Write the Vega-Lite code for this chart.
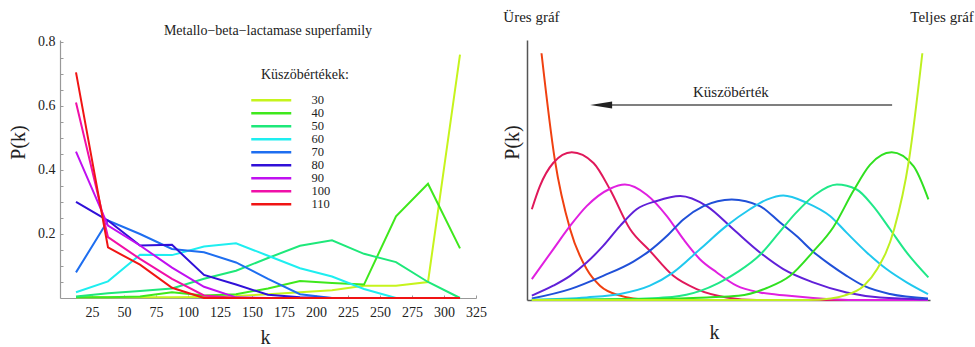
{
  "$schema": "https://vega.github.io/schema/vega-lite/v6.json",
  "background": "white",
  "padding": {"left": 8, "top": 10, "right": 5, "bottom": 5},
  "bounds": "flush",
  "spacing": 51,
  "config": {
    "font": "Liberation Serif",
    "view": {"stroke": null},
    "text": {"font": "Liberation Serif"},
    "title": {"font": "Liberation Serif"},
    "legend": {"labelFont": "Liberation Serif", "titleFont": "Liberation Serif"},
    "axis": {"labelFont": "Liberation Serif", "titleFont": "Liberation Serif", "grid": false, "labelColor": "#222", "titleColor": "#222", "titleFontWeight": "normal"}
  },
  "resolve": {"scale": {"color": "independent"}, "legend": {"color": "independent"}},
  "datasets": {
    "left": [
      {"t":30,"k":12.5,"p":0.002},{"t":30,"k":37.5,"p":0.002},{"t":30,"k":62.5,"p":0.002},{"t":30,"k":87.5,"p":0.002},{"t":30,"k":112.5,"p":0.003},{"t":30,"k":137.5,"p":0.006},{"t":30,"k":162.5,"p":0.012},{"t":30,"k":187.5,"p":0.018},{"t":30,"k":212.5,"p":0.024},{"t":30,"k":237.5,"p":0.038},{"t":30,"k":262.5,"p":0.038},{"t":30,"k":287.5,"p":0.05},{"t":30,"k":312.5,"p":0.76},
      {"t":40,"k":12.5,"p":0.002},{"t":40,"k":37.5,"p":0.002},{"t":40,"k":62.5,"p":0.005},{"t":40,"k":87.5,"p":0.018},{"t":40,"k":112.5,"p":0.008},{"t":40,"k":137.5,"p":0.012},{"t":40,"k":162.5,"p":0.03},{"t":40,"k":187.5,"p":0.053},{"t":40,"k":212.5,"p":0.047},{"t":40,"k":237.5,"p":0.042},{"t":40,"k":262.5,"p":0.255},{"t":40,"k":287.5,"p":0.357},{"t":40,"k":312.5,"p":0.155},
      {"t":50,"k":12.5,"p":0.005},{"t":50,"k":37.5,"p":0.015},{"t":50,"k":62.5,"p":0.022},{"t":50,"k":87.5,"p":0.03},{"t":50,"k":112.5,"p":0.06},{"t":50,"k":137.5,"p":0.085},{"t":50,"k":162.5,"p":0.125},{"t":50,"k":187.5,"p":0.163},{"t":50,"k":212.5,"p":0.18},{"t":50,"k":237.5,"p":0.138},{"t":50,"k":262.5,"p":0.112},{"t":50,"k":287.5,"p":0.05},{"t":50,"k":312.5,"p":0.0},
      {"t":60,"k":12.5,"p":0.018},{"t":60,"k":37.5,"p":0.052},{"t":60,"k":62.5,"p":0.135},{"t":60,"k":87.5,"p":0.134},{"t":60,"k":112.5,"p":0.161},{"t":60,"k":137.5,"p":0.171},{"t":60,"k":162.5,"p":0.132},{"t":60,"k":187.5,"p":0.093},{"t":60,"k":212.5,"p":0.067},{"t":60,"k":237.5,"p":0.028},{"t":60,"k":262.5,"p":0.0},{"t":60,"k":287.5,"p":0.0},{"t":60,"k":312.5,"p":0.0},
      {"t":70,"k":12.5,"p":0.08},{"t":70,"k":37.5,"p":0.242},{"t":70,"k":62.5,"p":0.2},{"t":70,"k":87.5,"p":0.153},{"t":70,"k":112.5,"p":0.143},{"t":70,"k":137.5,"p":0.111},{"t":70,"k":162.5,"p":0.06},{"t":70,"k":187.5,"p":0.012},{"t":70,"k":212.5,"p":0.0},{"t":70,"k":237.5,"p":0.0},{"t":70,"k":262.5,"p":0.0},{"t":70,"k":287.5,"p":0.0},{"t":70,"k":312.5,"p":0.0},
      {"t":80,"k":12.5,"p":0.30},{"t":80,"k":37.5,"p":0.242},{"t":80,"k":62.5,"p":0.164},{"t":80,"k":87.5,"p":0.166},{"t":80,"k":112.5,"p":0.072},{"t":80,"k":137.5,"p":0.042},{"t":80,"k":162.5,"p":0.01},{"t":80,"k":187.5,"p":0.002},{"t":80,"k":212.5,"p":0.0},{"t":80,"k":237.5,"p":0.0},{"t":80,"k":262.5,"p":0.0},{"t":80,"k":287.5,"p":0.0},{"t":80,"k":312.5,"p":0.0},
      {"t":90,"k":12.5,"p":0.457},{"t":90,"k":37.5,"p":0.226},{"t":90,"k":62.5,"p":0.164},{"t":90,"k":87.5,"p":0.095},{"t":90,"k":112.5,"p":0.035},{"t":90,"k":137.5,"p":0.002},{"t":90,"k":162.5,"p":0.0},{"t":90,"k":187.5,"p":0.0},{"t":90,"k":212.5,"p":0.0},{"t":90,"k":237.5,"p":0.0},{"t":90,"k":262.5,"p":0.0},{"t":90,"k":287.5,"p":0.0},{"t":90,"k":312.5,"p":0.0},
      {"t":100,"k":12.5,"p":0.611},{"t":100,"k":37.5,"p":0.19},{"t":100,"k":62.5,"p":0.122},{"t":100,"k":87.5,"p":0.06},{"t":100,"k":112.5,"p":0.008},{"t":100,"k":137.5,"p":0.0},{"t":100,"k":162.5,"p":0.0},{"t":100,"k":187.5,"p":0.0},{"t":100,"k":212.5,"p":0.0},{"t":100,"k":237.5,"p":0.0},{"t":100,"k":262.5,"p":0.0},{"t":100,"k":287.5,"p":0.0},{"t":100,"k":312.5,"p":0.0},
      {"t":110,"k":12.5,"p":0.705},{"t":110,"k":37.5,"p":0.158},{"t":110,"k":62.5,"p":0.104},{"t":110,"k":87.5,"p":0.032},{"t":110,"k":112.5,"p":0.0},{"t":110,"k":137.5,"p":0.0},{"t":110,"k":162.5,"p":0.0},{"t":110,"k":187.5,"p":0.0},{"t":110,"k":212.5,"p":0.0},{"t":110,"k":237.5,"p":0.0},{"t":110,"k":262.5,"p":0.0},{"t":110,"k":287.5,"p":0.0},{"t":110,"k":312.5,"p":0.0}
    ],
    "right": [
      {"c":"c1","x":3.6,"y":94.9},{"c":"c1","x":6.9,"y":54.0},{"c":"c1","x":10.7,"y":27.2},{"c":"c1","x":14.8,"y":11.9},{"c":"c1","x":18.1,"y":5.5},{"c":"c1","x":23.1,"y":1.7},{"c":"c1","x":26.4,"y":0.6},{"c":"c1","x":32.2,"y":0},{"c":"c1","x":60,"y":0},{"c":"c1","x":99.5,"y":0},
      {"c":"c2","x":1.2,"y":34.9},{"c":"c2","x":3.2,"y":43.8},{"c":"c2","x":6.5,"y":52.7},{"c":"c2","x":11.1,"y":56.8},{"c":"c2","x":16.5,"y":52.7},{"c":"c2","x":20.6,"y":42.5},{"c":"c2","x":25.6,"y":27.2},{"c":"c2","x":30.5,"y":18.9},{"c":"c2","x":36.3,"y":9.3},{"c":"c2","x":42.1,"y":4.2},{"c":"c2","x":49.5,"y":1.0},{"c":"c2","x":57,"y":0},{"c":"c2","x":99.5,"y":0},
      {"c":"c3","x":1.2,"y":8.0},{"c":"c3","x":6.5,"y":19.5},{"c":"c3","x":10.7,"y":28.5},{"c":"c3","x":14.8,"y":36.1},{"c":"c3","x":20.6,"y":42.8},{"c":"c3","x":24.3,"y":44.4},{"c":"c3","x":29.7,"y":40.5},{"c":"c3","x":34.7,"y":32.3},{"c":"c3","x":38.8,"y":23.4},{"c":"c3","x":42.9,"y":15.7},{"c":"c3","x":47.1,"y":10.6},{"c":"c3","x":52.0,"y":5.5},{"c":"c3","x":57.8,"y":2.9},{"c":"c3","x":64.4,"y":1.7},{"c":"c3","x":71.0,"y":0.8},{"c":"c3","x":81.8,"y":0},{"c":"c3","x":99.5,"y":0},
      {"c":"c4","x":1.2,"y":1.7},{"c":"c4","x":6.5,"y":5.5},{"c":"c4","x":10.7,"y":9.3},{"c":"c4","x":14.8,"y":14.4},{"c":"c4","x":18.9,"y":20.8},{"c":"c4","x":23.1,"y":28.5},{"c":"c4","x":27.2,"y":34.9},{"c":"c4","x":32.2,"y":38.1},{"c":"c4","x":38.0,"y":40.0},{"c":"c4","x":44.6,"y":36.1},{"c":"c4","x":51.2,"y":27.2},{"c":"c4","x":57.8,"y":18.3},{"c":"c4","x":63.6,"y":11.9},{"c":"c4","x":71.0,"y":6.8},{"c":"c4","x":79.3,"y":2.9},{"c":"c4","x":87.6,"y":1.0},{"c":"c4","x":99.5,"y":0.3},
      {"c":"c5","x":1.2,"y":0.6},{"c":"c5","x":10.7,"y":4.2},{"c":"c5","x":18.9,"y":9.3},{"c":"c5","x":26.4,"y":14.8},{"c":"c5","x":30.5,"y":19.0},{"c":"c5","x":34.7,"y":24.6},{"c":"c5","x":38.8,"y":31.0},{"c":"c5","x":43.8,"y":36.1},{"c":"c5","x":50.8,"y":38.7},{"c":"c5","x":57.8,"y":36.1},{"c":"c5","x":62.8,"y":29.8},{"c":"c5","x":66.9,"y":24.6},{"c":"c5","x":71.0,"y":18.6},{"c":"c5","x":75.2,"y":13.6},{"c":"c5","x":79.3,"y":9.3},{"c":"c5","x":83.5,"y":5.5},{"c":"c5","x":90.1,"y":2.3},{"c":"c5","x":99.5,"y":0.6},
      {"c":"c6","x":1.2,"y":0.1},{"c":"c6","x":14.8,"y":1.0},{"c":"c6","x":23.1,"y":2.3},{"c":"c6","x":30.5,"y":5.5},{"c":"c6","x":36.3,"y":10.6},{"c":"c6","x":42.9,"y":19.5},{"c":"c6","x":49.5,"y":28.5},{"c":"c6","x":55.3,"y":34.9},{"c":"c6","x":59.5,"y":38.6},{"c":"c6","x":63.6,"y":40.2},{"c":"c6","x":69.4,"y":37.4},{"c":"c6","x":75.2,"y":32.3},{"c":"c6","x":79.3,"y":25.9},{"c":"c6","x":84.3,"y":18.3},{"c":"c6","x":89.2,"y":11.9},{"c":"c6","x":94.2,"y":6.8},{"c":"c6","x":99.5,"y":2.3},
      {"c":"c7","x":1.2,"y":0},{"c":"c7","x":23.9,"y":0.4},{"c":"c7","x":36.0,"y":1.2},{"c":"c7","x":43.0,"y":3.5},{"c":"c7","x":47.5,"y":6.5},{"c":"c7","x":52.5,"y":11.0},{"c":"c7","x":57.9,"y":17.5},{"c":"c7","x":62.6,"y":26.0},{"c":"c7","x":66.5,"y":33.1},{"c":"c7","x":71.5,"y":40.5},{"c":"c7","x":76.9,"y":44.4},{"c":"c7","x":81.8,"y":42.5},{"c":"c7","x":85.9,"y":36.1},{"c":"c7","x":90.1,"y":27.2},{"c":"c7","x":94.2,"y":18.3},{"c":"c7","x":99.6,"y":8.7},
      {"c":"c8","x":1.2,"y":0},{"c":"c8","x":32.2,"y":0.4},{"c":"c8","x":44.6,"y":1.0},{"c":"c8","x":52.5,"y":1.6},{"c":"c8","x":59.5,"y":4.6},{"c":"c8","x":65.3,"y":9.3},{"c":"c8","x":71.0,"y":18.6},{"c":"c8","x":76.0,"y":28.0},{"c":"c8","x":81.0,"y":42.0},{"c":"c8","x":85.1,"y":52.0},{"c":"c8","x":90.5,"y":56.8},{"c":"c8","x":95.9,"y":51.5},{"c":"c8","x":99.6,"y":38.7},
      {"c":"c9","x":1.2,"y":0},{"c":"c9","x":69.6,"y":0},{"c":"c9","x":75.4,"y":0.6},{"c":"c9","x":78.7,"y":1.7},{"c":"c9","x":83.6,"y":5.5},{"c":"c9","x":86.9,"y":11.9},{"c":"c9","x":91.1,"y":27.2},{"c":"c9","x":94.8,"y":54.0},{"c":"c9","x":98.1,"y":94.9}
    ],
    "notes": [
      {"label":"Üres gráf","x":1.1,"y":108.8},
      {"label":"Teljes gráf","x":103,"y":108.8},
      {"label":"Küszöbérték","x":50.6,"y":80}
    ],
    "arrow": [
      {"x1":21,"x2":90.6,"y":75.0,"head":18.4}
    ]
  },
  "hconcat": [
    {
      "width": 416,
      "height": 258,
      "title": {"text": "Metallo−beta−lactamase superfamily", "frame": "group", "fontSize": 14, "fontWeight": "normal", "font": "Liberation Serif", "color": "#222", "offset": -3},
      "data": {"name": "left"},
      "mark": {"type": "line", "strokeWidth": 2, "clip": false},
      "encoding": {
        "x": {"field": "k", "type": "quantitative", "scale": {"domain": [0, 325], "nice": false},
          "axis": {"values": [25,50,75,100,125,150,175,200,225,250,275,300,325], "title": "k", "titleFontSize": 20, "titleX": 205, "titleY": 39, "titleBaseline": "middle", "labelFontSize": 14, "labelPadding": 10, "tickSize": -3, "tickColor": "#999", "domainColor": "#999", "domainWidth": 1.2, "labelFlush": false}},
        "y": {"field": "p", "type": "quantitative", "scale": {"domain": [0, 0.806], "nice": false},
          "axis": {"values": [0.05,0.1,0.15,0.2,0.25,0.3,0.35,0.4,0.45,0.5,0.55,0.6,0.65,0.7,0.75,0.8], "labelExpr": "abs(datum.value*5 - round(datum.value*5)) < 0.001 ? format(datum.value, '.1f') : ''", "title": "P(k)", "titleFontSize": 20, "titleX": -42, "titleY": 102, "titleAngle": -90, "titleAlign": "center", "titleBaseline": "middle", "labelFontSize": 14, "labelPadding": 8, "tickSize": -3, "tickColor": "#999", "domainColor": "#999", "domainWidth": 1.2}},
        "color": {"field": "t", "type": "nominal",
          "scale": {"domain": [30,40,50,60,70,80,90,100,110], "range": ["#c6f41c","#3fe81c","#1ee87a","#1eeef0","#1e6ef0","#3010d8","#c010f0","#f010a8","#f01414"]},
          "legend": {"orient": "none", "legendX": 201, "legendY": 28, "title": "Küszöbértékek:", "titleFont": "Liberation Serif", "titleFontSize": 14, "titleFontWeight": "normal", "titleColor": "#222", "titlePadding": 12, "labelFont": "Liberation Serif", "labelFontSize": 12.5, "labelColor": "#222", "symbolType": "M-4,0H6", "symbolSize": 64, "symbolStrokeWidth": 2.5, "labelOffset": 38, "rowPadding": 0}}
      }
    },
    {
      "width": 403,
      "height": 260,
      "layer": [
        {
          "data": {"name": "right"},
          "mark": {"type": "line", "strokeWidth": 2, "interpolate": "monotone", "clip": false},
          "encoding": {
            "x": {"field": "x", "type": "quantitative", "scale": {"domain": [0, 100], "nice": false},
              "axis": {"labels": false, "ticks": false, "title": "k", "titleFontSize": 20, "titleX": 187, "titleY": 32, "titleBaseline": "middle", "domainColor": "#555", "domainWidth": 1.5}},
            "y": {"field": "y", "type": "quantitative", "scale": {"domain": [0, 100], "nice": false},
              "axis": {"labels": false, "ticks": false, "title": "P(k)", "titleFontSize": 20, "titleX": -15, "titleY": 102, "titleAngle": -90, "titleAlign": "center", "titleBaseline": "middle", "domainColor": "#555", "domainWidth": 1.5}},
            "color": {"field": "c", "type": "nominal",
              "scale": {"domain": ["c1","c2","c3","c4","c5","c6","c7","c8","c9"], "range": ["#f04010","#e0185a","#e020e0","#6020d8","#2050d8","#20c8ee","#20e888","#30e020","#bef020"]},
              "legend": null}
          }
        },
        {
          "data": {"name": "arrow"},
          "mark": {"type": "rule", "strokeWidth": 1.5, "color": "#555"},
          "encoding": {
            "x": {"field": "x1", "type": "quantitative"},
            "x2": {"field": "x2"},
            "y": {"field": "y", "type": "quantitative"}
          }
        },
        {
          "data": {"name": "arrow"},
          "mark": {"type": "point", "shape": "M-1,0L1,-0.32L1,0.32Z", "size": 484, "filled": true, "color": "#222", "opacity": 1},
          "encoding": {
            "x": {"field": "head", "type": "quantitative"},
            "y": {"field": "y", "type": "quantitative"}
          }
        },
        {
          "data": {"name": "notes"},
          "mark": {"type": "text", "font": "Liberation Serif", "fontSize": 15, "color": "#222", "baseline": "middle", "align": "center", "clip": false},
          "encoding": {
            "x": {"field": "x", "type": "quantitative"},
            "y": {"field": "y", "type": "quantitative"},
            "text": {"field": "label"}
          }
        }
      ]
    }
  ]
}
